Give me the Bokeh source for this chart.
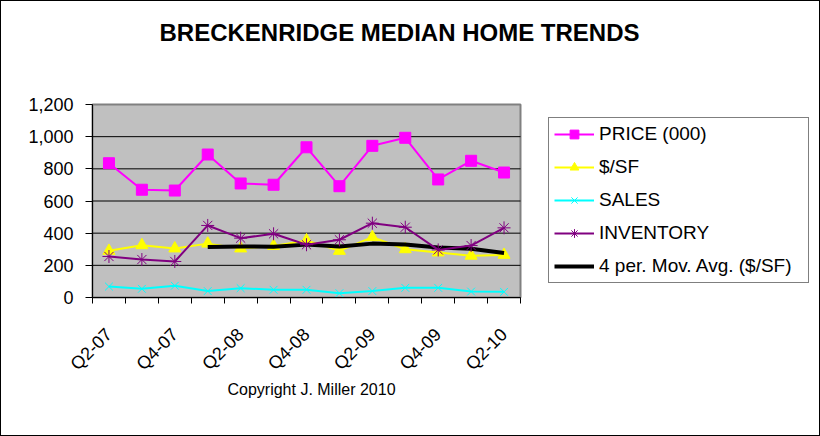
import math
from bokeh.plotting import figure
from bokeh.models import (Range1d, FixedTicker, NumeralTickFormatter, Legend, LegendItem, Label)
from bokeh.embed import file_html
from bokeh.resources import INLINE

quarters = ["Q2-07", "Q3-07", "Q4-07", "Q1-08", "Q2-08", "Q3-08", "Q4-08",
            "Q1-09", "Q2-09", "Q3-09", "Q4-09", "Q1-10", "Q2-10"]
price = [835, 670, 665, 889, 709, 701, 934, 692, 943, 993, 734, 850, 777]
per_sf = [290, 325, 305, 335, 305, 320, 355, 290, 375, 300, 280, 260, 265]
sales = [68, 54, 73, 40, 58, 48, 48, 27, 40, 60, 60, 37, 35]
inventory = [255, 236, 224, 448, 369, 396, 328, 359, 462, 437, 296, 323, 433]
y_ticks = [0, 200, 400, 600, 800, 1000, 1200]

x = list(range(len(quarters)))
ma_x = x[3:]
ma_y = [sum(per_sf[i - 3:i + 1]) / 4 for i in ma_x]

FONT = "Liberation Sans"

# layout constants (pixels): the frame covers the whole canvas
W, H = 820, 436
PL, PR, PT, PB = 92, 520, 104, 297   # gray plot area edges
x_lo, x_hi = -0.5, len(quarters) - 0.5
y_lo, y_hi = y_ticks[0], y_ticks[-1]
xs = (x_hi - x_lo) / (PR - PL)
ys = (y_hi - y_lo) / (PB - PT)
x_range = Range1d(x_lo - PL * xs, x_hi + (W - PR) * xs)
y_range = Range1d(y_lo - (H - PB) * ys, y_hi + PT * ys)

p = figure(width=W, height=H, output_backend="svg", toolbar_location=None,
           x_range=x_range, y_range=y_range,
           min_border_left=0, min_border_right=0, min_border_top=0,
           min_border_bottom=0, title=None)
p.background_fill_alpha = 0
p.border_fill_alpha = 0
p.styles = {"background-color": "white", "box-shadow": "inset 0 0 0 1px black"}
p.outline_line_color = None
p.xgrid.visible = False
p.ygrid.visible = False

# plot area and gridlines
p.quad(left=[x_lo], right=[x_hi], bottom=[y_lo], top=[y_hi],
       fill_color="#C0C0C0", line_color="#808080", line_width=2)
p.segment(x0=[x_lo] * (len(y_ticks) - 2), x1=[x_hi] * (len(y_ticks) - 2),
          y0=y_ticks[1:-1], y1=y_ticks[1:-1], line_color="black", line_width=1)

# axes
p.xaxis.fixed_location = y_lo
p.xaxis.bounds = (x_lo, x_hi)
p.xaxis.ticker = FixedTicker(ticks=x[::2], minor_ticks=[i - 0.5 for i in range(len(quarters) + 1)])
p.xaxis.major_label_overrides = {i: quarters[i] for i in x[::2]}
p.xaxis.major_label_orientation = math.pi / 4
p.xaxis.major_tick_out = 0
p.xaxis.major_tick_in = 0
p.xaxis.minor_tick_out = 6
p.xaxis.minor_tick_in = 0
p.xaxis.minor_tick_line_color = "black"
p.xaxis.major_label_standoff = 28

p.yaxis.fixed_location = x_lo
p.yaxis.bounds = (y_lo, y_hi)
p.yaxis.ticker = FixedTicker(ticks=y_ticks)
p.yaxis.formatter = NumeralTickFormatter(format="0,0")
p.yaxis.major_tick_out = 7
p.yaxis.major_tick_in = 0
p.yaxis.minor_tick_out = 0
p.yaxis.minor_tick_in = 0
p.yaxis.major_label_standoff = 12

for ax in (p.xaxis, p.yaxis):
    ax.axis_line_color = "black"
    ax.axis_line_width = 1
    ax.major_tick_line_color = "black"
    ax.major_label_text_font = FONT
    ax.major_label_text_font_size = "18px"
    ax.major_label_text_color = "black"

# series
l1 = p.line(x, price, line_color="#FF00FF", line_width=2)
m1 = p.scatter(x, price, marker="square", size=11, fill_color="#FF00FF", line_color="#FF00FF")
l2 = p.line(x, per_sf, line_color="#FFFF00", line_width=2)
m2 = p.scatter(x, per_sf, marker="triangle", size=12, fill_color="#FFFF00", line_color="#FFFF00")
l3 = p.line(x, sales, line_color="#00FFFF", line_width=2)
m3 = p.scatter(x, sales, marker="x", size=11, line_color="#00FFFF", line_width=1)
l5 = p.line(ma_x, ma_y, line_color="black", line_width=4)
l4 = p.line(x, inventory, line_color="#800080", line_width=2)
m4 = p.scatter(x, inventory, marker="asterisk", size=13, line_color="#800080", line_width=1)

legend = Legend(items=[
    LegendItem(label="PRICE (000)", renderers=[l1, m1]),
    LegendItem(label="$/SF", renderers=[l2, m2]),
    LegendItem(label="SALES", renderers=[l3, m3]),
    LegendItem(label="INVENTORY", renderers=[l4, m4]),
    LegendItem(label="4 per. Mov. Avg. ($/SF)", renderers=[l5]),
], location=(548, H - 283))
legend.label_text_font = FONT
legend.label_text_font_size = "19px"
legend.label_text_color = "black"
legend.glyph_width = 40
legend.glyph_height = 22
legend.label_height = 22
legend.label_width = 204
legend.spacing = 11
legend.padding = 5
legend.margin = 0
legend.label_standoff = 5
legend.border_line_color = "black"
legend.border_line_width = 1
legend.background_fill_color = "white"
legend.background_fill_alpha = 1
p.add_layout(legend)

title = Label(x=399, y=H - 32, x_units="screen", y_units="screen",
              text="BRECKENRIDGE MEDIAN HOME TRENDS", text_align="center",
              text_baseline="alphabetic", text_font=FONT, text_font_size="24px",
              text_font_style="bold", text_color="black")
p.add_layout(title)

copy = Label(x=311, y=H - 389, x_units="screen", y_units="screen",
             text="Copyright J. Miller 2010", text_align="center",
             text_baseline="alphabetic", text_font=FONT, text_font_size="16px",
             text_color="black")
p.add_layout(copy)

open("out.html", "w").write(file_html(p, INLINE))
